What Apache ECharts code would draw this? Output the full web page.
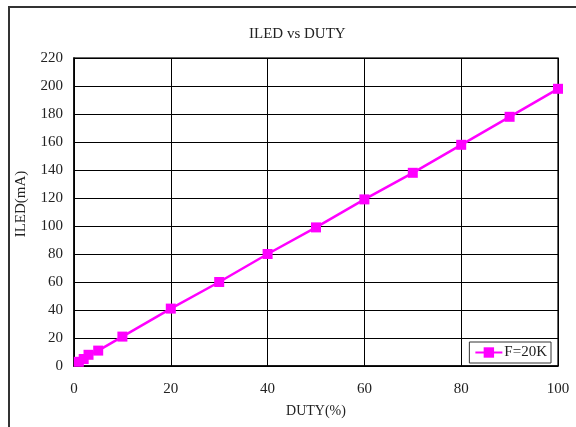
<!DOCTYPE html>
<html><head><meta charset="utf-8">
<script src="https://cdn.jsdelivr.net/npm/echarts@6/dist/echarts.min.js"></script>
<style>html,body{margin:0;padding:0;background:#fff}#c{width:576px;height:427px}</style>
</head><body><div id="c"></div>
<script>
const duty = [1, 2, 3, 5, 10, 20, 30, 40, 50, 60, 70, 80, 90, 100];
const iled = [3, 5, 8, 11, 21, 41, 60, 80, 99, 119, 138, 158, 178, 198];
const seriesName = 'F=20K';
const titleText = 'ILED vs DUTY';
const xName = 'DUTY(%)';
const yName = 'ILED(mA)';

const font = '"Liberation Serif", "DejaVu Serif", serif';
const chart = echarts.init(document.getElementById('c'));
chart.setOption({
  animation: false,
  backgroundColor: '#fff',
  title: {text: titleText, left: 244, top: 22,
    textStyle: {fontFamily: font, fontSize: 15, fontWeight: 'normal', color: '#222'}},
  graphic: [
    {type: 'rect', shape: {x: 9, y: 7, width: 700, height: 600},
      style: {fill: 'none', stroke: '#333', lineWidth: 2}, z: -1},
    {type: 'text', x: 21, y: 204, rotation: Math.PI / 2,
      style: {text: yName, fontFamily: font, fontSize: 15, fill: '#222',
        textAlign: 'center', textVerticalAlign: 'middle'}}
  ],
  grid: {left: 74, right: 18, top: 58, bottom: 61, show: true, borderColor: '#333', borderWidth: 1.5, backgroundColor: 'transparent'},
  legend: {right: 25, bottom: 64, itemWidth: 27, itemHeight: 13, itemGap: 4, padding: [3, 4, 3, 5],
    backgroundColor: '#fff', borderColor: '#333', borderWidth: 1, borderRadius: 0,
    textStyle: {fontFamily: font, fontSize: 15, color: '#222', padding: [0, 0, 0, -3]},
    data: [{name: seriesName}]},
  xAxis: {type: 'value', min: 0, max: 100, interval: 20,
    name: xName, nameLocation: 'middle', nameGap: 38,
    nameTextStyle: {fontFamily: font, fontSize: 14, color: '#222'},
    axisLine: {lineStyle: {color: '#000', width: 1.5}}, axisTick: {show: false},
    axisLabel: {fontFamily: font, fontSize: 15, color: '#222', margin: 16},
    splitLine: {lineStyle: {color: '#000', width: 1}}},
  yAxis: {type: 'value', min: 0, max: 220, interval: 20,
    axisLine: {show: true, lineStyle: {color: '#000', width: 1.5}}, axisTick: {show: false},
    axisLabel: {fontFamily: font, fontSize: 15, color: '#222', margin: 11},
    splitLine: {lineStyle: {color: '#000', width: 1}}},
  series: [{name: seriesName, type: 'line', data: duty.map((d, i) => [d, iled[i]]),
    symbol: 'rect', symbolSize: 10, color: '#ff00ff',
    lineStyle: {width: 2.5, color: '#ff00ff'}, itemStyle: {color: '#ff00ff'}}]
});
</script></body></html>
